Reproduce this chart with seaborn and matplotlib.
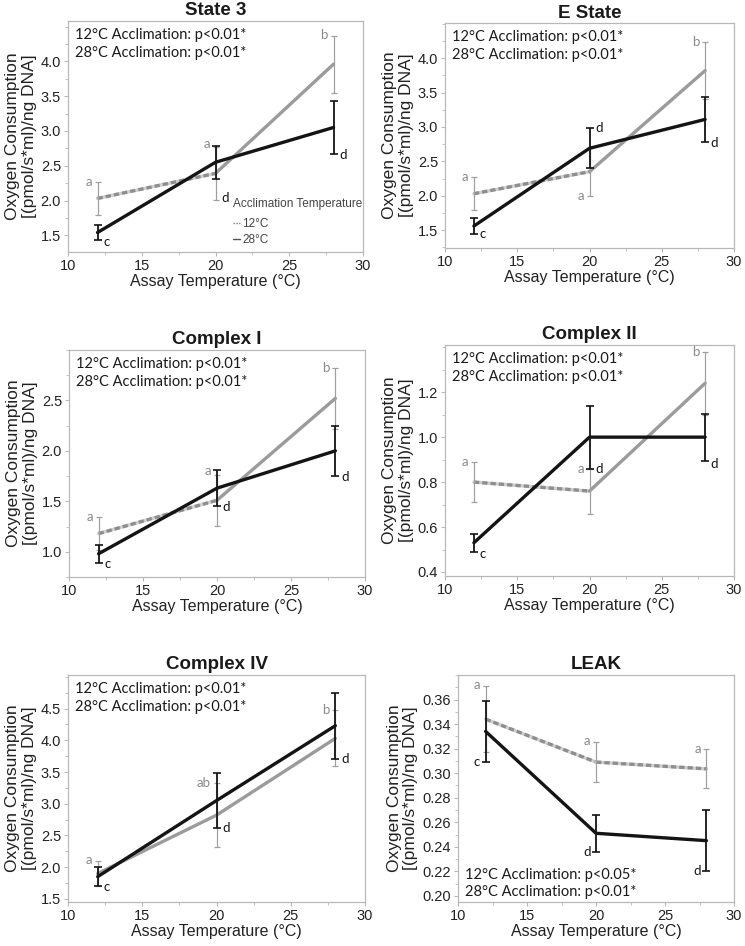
import matplotlib
matplotlib.use("Agg")
import numpy as np
import pandas as pd
import matplotlib.pyplot as plt
import seaborn as sns
from matplotlib.lines import Line2D
from matplotlib.ticker import AutoMinorLocator, FormatStrFormatter

# ---- data ----
assay_temps = [12, 20, 28]
panel_titles = ["State 3", "E State", "Complex I", "Complex II", "Complex IV", "LEAK"]

# mean and error bar half-width, fish acclimated at 12°C (grey) and 28°C (black)
state3_12 = [2.03, 2.39, 3.96]
state3_12_err = [0.24, 0.38, 0.41]
state3_28 = [1.54, 2.55, 3.05]
state3_28_err = [0.11, 0.24, 0.38]

estate_12 = [2.03, 2.35, 3.82]
estate_12_err = [0.24, 0.35, 0.41]
estate_28 = [1.56, 2.69, 3.11]
estate_28_err = [0.11, 0.29, 0.33]

cx1_12 = [1.18, 1.51, 2.52]
cx1_12_err = [0.16, 0.25, 0.30]
cx1_28 = [0.98, 1.63, 2.00]
cx1_28_err = [0.09, 0.18, 0.245]

cx2_12 = [0.80, 0.76, 1.24]
cx2_12_err = [0.09, 0.10, 0.14]
cx2_28 = [0.53, 1.00, 1.00]
cx2_28_err = [0.04, 0.14, 0.105]

cx4_12 = [1.90, 2.82, 4.03]
cx4_12_err = [0.20, 0.51, 0.44]
cx4_28 = [1.85, 3.05, 4.23]
cx4_28_err = [0.15, 0.43, 0.52]

leak_12 = [0.344, 0.309, 0.3035]
leak_12_err = [0.027, 0.016, 0.016]
leak_28 = [0.334, 0.251, 0.245]
leak_28_err = [0.025, 0.015, 0.025]

stats_text = [
    "12°C Acclimation: p<0.01*\n28°C Acclimation: p<0.01*",
    "12°C Acclimation: p<0.01*\n28°C Acclimation: p<0.01*",
    "12°C Acclimation: p<0.01*\n28°C Acclimation: p<0.01*",
    "12°C Acclimation: p<0.01*\n28°C Acclimation: p<0.01*",
    "12°C Acclimation: p<0.01*\n28°C Acclimation: p<0.01*",
    "12°C Acclimation: p<0.05*\n28°C Acclimation: p<0.01*",
]

# significance letters: (point index, y, letter, acclimation group, side)
state3_letters = [(0, 2.27, "a", "12", "L"), (0, 1.41, "c", "28", "R"), (1, 2.81, "a", "12", "L"),
                  (1, 2.04, "d", "28", "R"), (2, 4.38, "b", "12", "L"), (2, 2.66, "d", "28", "R")]
estate_letters = [(0, 2.27, "a", "12", "L"), (0, 1.44, "c", "28", "R"), (1, 2.00, "a", "12", "L"),
                  (1, 2.98, "d", "28", "R"), (2, 4.23, "b", "12", "L"), (2, 2.76, "d", "28", "R")]
cx1_letters = [(0, 1.34, "a", "12", "L"), (0, 0.88, "c", "28", "R"), (1, 1.80, "a", "12", "L"),
               (1, 1.44, "d", "28", "R"), (2, 2.82, "b", "12", "L"), (2, 1.74, "d", "28", "R")]
cx2_letters = [(0, 0.89, "a", "12", "L"), (0, 0.48, "c", "28", "R"), (1, 0.86, "a", "12", "L"),
               (1, 0.86, "d", "28", "R"), (2, 1.38, "b", "12", "L"), (2, 0.88, "d", "28", "R")]
cx4_letters = [(0, 2.12, "a", "12", "L"), (0, 1.68, "c", "28", "R"), (1, 3.33, "ab", "12", "L"),
               (1, 2.62, "d", "28", "R"), (2, 4.47, "b", "12", "L"), (2, 3.70, "d", "28", "R")]
leak_letters = [(0, 0.372, "a", "12", "L"), (0, 0.309, "c", "28", "L"), (1, 0.326, "a", "12", "L"),
                (1, 0.236, "d", "28", "L"), (2, 0.320, "a", "12", "L"), (2, 0.220, "d", "28", "L")]

y_ticks = [
    [1.5, 2.0, 2.5, 3.0, 3.5, 4.0],
    [1.5, 2.0, 2.5, 3.0, 3.5, 4.0],
    [1.0, 1.5, 2.0, 2.5],
    [0.4, 0.6, 0.8, 1.0, 1.2],
    [1.5, 2.0, 2.5, 3.0, 3.5, 4.0, 4.5],
    [0.20, 0.22, 0.24, 0.26, 0.28, 0.30, 0.32, 0.34, 0.36],
]
x_ticks = [10, 15, 20, 25, 30]

# ---- layout / style ----
panels = [
    (state3_12, state3_12_err, state3_28, state3_28_err, state3_letters),
    (estate_12, estate_12_err, estate_28, estate_28_err, estate_letters),
    (cx1_12, cx1_12_err, cx1_28, cx1_28_err, cx1_letters),
    (cx2_12, cx2_12_err, cx2_28, cx2_28_err, cx2_letters),
    (cx4_12, cx4_12_err, cx4_28, cx4_28_err, cx4_letters),
    (leak_12, leak_12_err, leak_28, leak_28_err, leak_letters),
]
rects = [
    (0.0913, 0.7336, 0.3960, 0.2442),
    (0.5973, 0.7378, 0.3880, 0.2378),
    (0.0926, 0.3901, 0.3973, 0.2400),
    (0.5973, 0.3911, 0.3880, 0.2442),
    (0.0913, 0.0465, 0.3987, 0.2400),
    (0.6148, 0.0465, 0.3705, 0.2400),
]
ylims = [(1.26, 4.58), (1.24, 4.51), (0.75, 3.0), (0.382, 1.41), (1.45, 5.03), (0.195, 0.380)]
dashed_segments = [[0], [0], [0], [0], [], [0, 1]]
y_formats = ["%.1f"] * 5 + ["%.2f"]

GREY = "#9b9b9b"
GREY_LIGHT = "#cfcfcf"
BLACK = "#141414"
SPINE = "#b8b8b8"

sns.set_theme(style="white")
plt.rcParams["font.family"] = ["Liberation Sans", "DejaVu Sans"]

fig = plt.figure(figsize=(7.45, 9.46), dpi=100)

for k, (m12, e12, m28, e28, letters) in enumerate(panels):
    ax = fig.add_axes(rects[k])

    df = pd.DataFrame({
        "temp": assay_temps * 2,
        "value": m12 + m28,
        "err": e12 + e28,
        "acclim": ["12"] * 3 + ["28"] * 3,
    })
    g12 = df[df.acclim == "12"].reset_index(drop=True)
    g28 = df[df.acclim == "28"].reset_index(drop=True)

    # grey line, segment by segment (some drawn dashed)
    for seg in range(2):
        part = g12.iloc[seg:seg + 2]
        if seg in dashed_segments[k]:
            sns.lineplot(data=part, x="temp", y="value", ax=ax, color=GREY_LIGHT,
                         linewidth=2.4, legend=False)
            sns.lineplot(data=part, x="temp", y="value", ax=ax, color="#8e8e8e",
                         linewidth=2.4, legend=False, dashes=False, linestyle=(0, (1.6, 0.9)))
        else:
            sns.lineplot(data=part, x="temp", y="value", ax=ax, color=GREY,
                         linewidth=2.4, legend=False)
    ax.errorbar(g12.temp, g12.value, yerr=g12.err, fmt="none", ecolor="#a0a0a0",
                elinewidth=0.9, capsize=2.5, capthick=0.9, zorder=3)

    sns.lineplot(data=g28, x="temp", y="value", ax=ax, color=BLACK, linewidth=2.4,
                 legend=False, zorder=4)
    ax.errorbar(g28.temp, g28.value, yerr=g28.err, fmt="none", ecolor=BLACK,
                elinewidth=1.3, capsize=3, capthick=1.2, zorder=5)

    for idx, yv, lab, grp, side in letters:
        col = "#8a8a8a" if grp == "12" else BLACK
        dx = -4 if side == "L" else 4
        ax.annotate(lab, (assay_temps[idx], yv), xytext=(dx, 0), textcoords="offset points",
                    ha="right" if side == "L" else "left", va="center",
                    fontsize=9.5, color=col, family=["Lato", "DejaVu Sans"], zorder=6)

    # stats text
    if k == 5:
        ax.text(0.025, 0.015, stats_text[k], transform=ax.transAxes, ha="left", va="bottom",
                fontsize=10.5, family=["Lato", "DejaVu Sans"], color="#1a1a1a", linespacing=1.25)
    else:
        ax.text(0.025, 0.97, stats_text[k], transform=ax.transAxes, ha="left", va="top",
                fontsize=10.5, family=["Lato", "DejaVu Sans"], color="#1a1a1a", linespacing=1.35)

    ax.set_xlim(10, 30)
    ax.set_ylim(*ylims[k])
    ax.set_xticks(x_ticks)
    ax.set_yticks(y_ticks[k])
    ax.yaxis.set_major_formatter(FormatStrFormatter(y_formats[k]))
    ax.xaxis.set_minor_locator(AutoMinorLocator(2))
    ax.yaxis.set_minor_locator(AutoMinorLocator(2))
    ax.tick_params(axis="both", which="major", direction="out", length=3, width=0.8,
                   color=SPINE, labelsize=10.5, labelcolor="#222222", pad=2)
    ax.tick_params(axis="both", which="minor", direction="out", length=2, width=0.6,
                   color=SPINE)
    ax.tick_params(bottom=True, left=True, which="both")
    for sp in ax.spines.values():
        sp.set_color(SPINE)
        sp.set_linewidth(0.9)

    ax.set_title(panel_titles[k], fontsize=13.5, fontweight="bold", pad=4, color="#1a1a1a")
    ax.set_xlabel("Assay Temperature (°C)", fontsize=11.5, color="#222222", labelpad=1)
    ax.set_ylabel("Oxygen Consumption\n[(pmol/s*ml)/ng DNA]", fontsize=12.5, color="#222222",
                  labelpad=3, linespacing=1.1)

    if k == 0:
        handles = [
            Line2D([], [], color="#8e8e8e", linestyle=(0, (1.2, 0.8)), linewidth=1),
            Line2D([], [], color="#555555", linewidth=1),
        ]
        leg = ax.legend(handles, ["12°C", "28°C"], title="Acclimation Temperature",
                        loc="upper left", bbox_to_anchor=(0.56, 0.235), frameon=False,
                        fontsize=8.5, title_fontsize=8.5, handlelength=0.6,
                        handletextpad=0.15, labelspacing=0.35, borderpad=0,
                        borderaxespad=0)
        leg._legend_box.align = "left"
        leg._legend_box.sep = 6
        leg.get_title().set_color("#444444")
        for t in leg.get_texts():
            t.set_color("#444444")

fig.savefig("out.png", dpi=100)
